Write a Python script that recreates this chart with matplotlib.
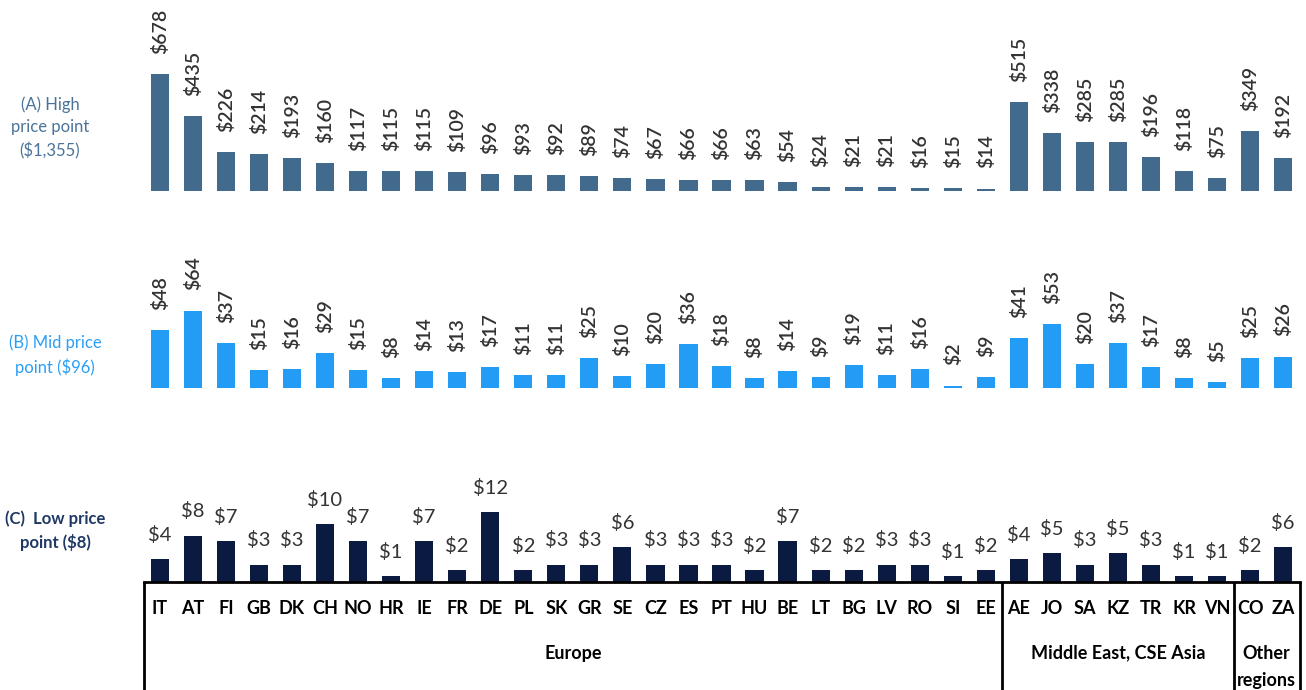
import matplotlib
matplotlib.use("Agg")
import matplotlib.pyplot as plt
import numpy as np

countries = ["IT", "AT", "FI", "GB", "DK", "CH", "NO", "HR", "IE", "FR", "DE", "PL", "SK",
             "GR", "SE", "CZ", "ES", "PT", "HU", "BE", "LT", "BG", "LV", "RO", "SI", "EE",
             "AE", "JO", "SA", "KZ", "TR", "KR", "VN", "CO", "ZA"]
high_price = [678, 435, 226, 214, 193, 160, 117, 115, 115, 109, 96, 93, 92, 89, 74, 67, 66,
              66, 63, 54, 24, 21, 21, 16, 15, 14, 515, 338, 285, 285, 196, 118, 75, 349, 192]
mid_price = [48, 64, 37, 15, 16, 29, 15, 8, 14, 13, 17, 11, 11, 25, 10, 20, 36, 18, 8, 14,
             9, 19, 11, 16, 2, 9, 41, 53, 20, 37, 17, 8, 5, 25, 26]
low_price = [4, 8, 7, 3, 3, 10, 7, 1, 7, 2, 12, 2, 3, 3, 6, 3, 3, 3, 2, 7, 2, 2, 3, 3, 1, 2,
             4, 5, 3, 5, 3, 1, 1, 2, 6]
regions = ["Europe", "Middle East, CSE Asia", "Other\nregions"]
region_sizes = [26, 7, 2]
panel_titles = ["(A) High\nprice point\n($1,355)", "(B) Mid price\npoint ($96)",
                "(C)  Low price\npoint ($8)"]

W, H = 1306, 690
plt.rcParams["font.family"] = ["Lato", "DejaVu Sans"]
fig = plt.figure(figsize=(W / 100, H / 100), dpi=100)

X0, X1 = 144, 1300
XLIM = (-0.48, 34.51)
x = np.arange(len(countries))


def px_axes(top, bottom):
    return fig.add_axes([X0 / W, 1 - bottom / H, (X1 - X0) / W, (bottom - top) / H])


def clean(ax):
    ax.set_xlim(*XLIM)
    for s in ax.spines.values():
        s.set_visible(False)
    ax.set_xticks([])
    ax.set_yticks([])
    ax.patch.set_alpha(0)


bar_w = 0.55
label_color = "#333333"

# (A) high price point
ax_a = px_axes(0, 191)
clean(ax_a)
ax_a.set_ylim(0, 191 / 0.172)
ax_a.bar(x, high_price, width=bar_w, color="#416a8d")
for xi, v in zip(x, high_price):
    ax_a.annotate(f"${v}", (xi, v), xytext=(0, 14.5), textcoords="offset points",
                  rotation=90, ha="center", va="bottom", fontsize=14, color=label_color,
                  fontweight="semibold")

# (B) mid price point
ax_b = px_axes(270, 388)
clean(ax_b)
ax_b.set_ylim(0, 118 / 1.21)
ax_b.bar(x, mid_price, width=bar_w, color="#229cf5")
for xi, v in zip(x, mid_price):
    ax_b.annotate(f"${v}", (xi, v), xytext=(0, 14.5), textcoords="offset points",
                  rotation=90, ha="center", va="bottom", fontsize=14, color=label_color,
                  fontweight="semibold")

# (C) low price point
ax_c = px_axes(440, 582)
clean(ax_c)
ax_c.set_ylim(0, 142 / 5.8)
ax_c.bar(x, low_price, width=bar_w, color="#0b1a40")
for xi, v in zip(x, low_price):
    ax_c.annotate(f"${v}", (xi, v), xytext=(0, 11), textcoords="offset points",
                  ha="center", va="bottom", fontsize=14.5, color=label_color)

# category frame with country and region labels
ax_f = px_axes(582, 690)
clean(ax_f)
ax_f.set_ylim(0, 1)
ax_f.axhline(1, color="black", lw=2, clip_on=False)
bounds = np.concatenate([[XLIM[0]], np.cumsum(region_sizes) - 0.5])
bounds[-1] = XLIM[1]
for b in bounds:
    ax_f.plot([b, b], [0, 1], color="black", lw=2, clip_on=False, solid_capstyle="butt")
for xi, c in zip(x, countries):
    ax_f.text(xi, 1 - 26 / 108, c, ha="center", va="center", fontsize=13,
              fontweight="bold", color="black")
starts = np.concatenate([[0], np.cumsum(region_sizes)[:-1]])
for s, n, name in zip(starts, region_sizes, regions):
    cx = s + (n - 1) / 2
    if "\n" in name:
        ax_f.text(cx, 1 - 85 / 108, name, ha="center", va="center", fontsize=13,
                  fontweight="bold", color="black", linespacing=1.65)
    else:
        ax_f.text(cx, 1 - 71 / 108, name, ha="center", va="center", fontsize=13,
                  fontweight="bold", color="black")

# panel titles on the left
title_specs = [(50, 128, "#4b7399", "normal"), (55, 355, "#2a9ff5", "normal"),
               (55, 531, "#1f3864", "bold")]
for (tx, ty, col, wt), t in zip(title_specs, panel_titles):
    fig.text(tx / W, 1 - ty / H, t, ha="center", va="center", fontsize=12, color=col,
             fontweight=wt, linespacing=1.5)

fig.savefig("out.png", dpi=100)
